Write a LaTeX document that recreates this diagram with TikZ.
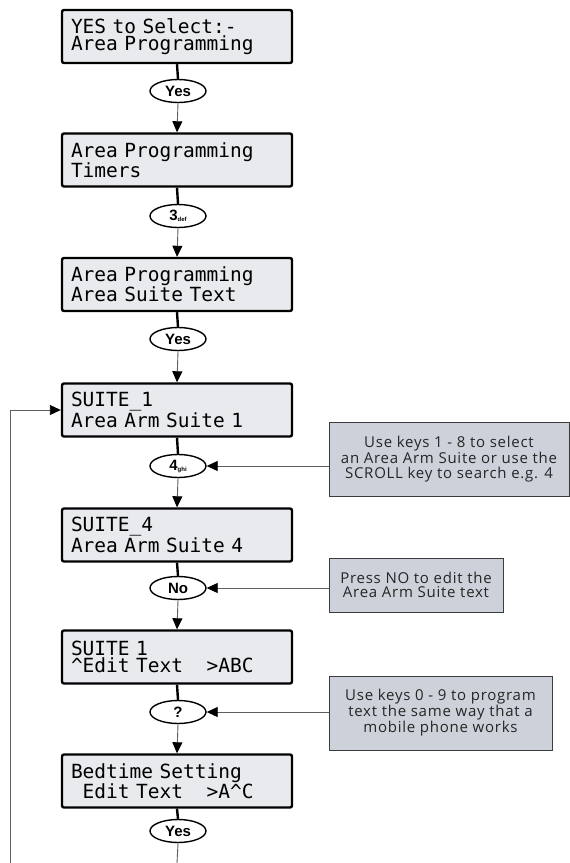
\documentclass[tikz,border=0pt]{standalone}
\usepackage{fontspec}
\setmainfont{Liberation Sans}
\newfontfamily\lcdfont{DejaVu Sans Mono}
\newfontfamily\notefont{Open Sans}[LetterSpace=5]
\usetikzlibrary{arrows.meta, shapes.geometric}
\definecolor{lcdfill}{RGB}{232, 234, 238}
\definecolor{notefill}{RGB}{205, 209, 217}
\definecolor{notedraw}{RGB}{60, 60, 60}
\definecolor{linegray}{RGB}{95, 95, 95}
\newcommand{\gap}{\hphantom{x}}
\newcommand{\lcdtext}{\lcdfont\fontsize{19.5}{17}\selectfont
  \spaceskip=\fontcharwd\font`x\relax\xspaceskip=\spaceskip}

\begin{document}
\begin{tikzpicture}[x=1pt, y=-1pt,
    lcd/.style={draw, line width=2.4pt, rounded corners=2pt, fill=lcdfill,
      minimum height=53pt, text width=212pt, inner xsep=9pt, inner ysep=0pt,
      align=left, font=\lcdtext},
    key/.style={draw, ellipse, line width=1.4pt, fill=white, minimum width=56pt,
      minimum height=23pt, inner sep=0pt, font=\bfseries\fontsize{15}{15}\selectfont},
    note/.style={draw=notedraw, line width=0.9pt, fill=notefill, inner sep=0pt,
      align=center, text=black!85, font=\notefont\fontsize{15}{14.2}\selectfont},
    stem/.style={line width=2.4pt},
    flow/.style={line width=0.9pt, draw=linegray,
      -{Triangle[length=11pt, width=10pt, color=black]}},
    plain/.style={line width=0.9pt, draw=linegray}]
    \useasboundingbox (0,0) rectangle (570,863);
    % Displays
    \node[lcd] (b1) at (177,36.5) {YES to Select:-\\Area Programming};
    \node[lcd] (b2) at (177,160)  {Area Programming\\Timers};
    \node[lcd] (b3) at (177,284.5){Area Programming\\Area Suite Text};
    \node[lcd] (b4) at (177,410)  {SUITE\_1\\Area Arm Suite 1};
    \node[lcd] (b5) at (177,535)  {SUITE\_4\\Area Arm Suite 4};
    \node[lcd] (b6) at (177,657)  {SUITE 1\\\textasciicircum Edit Text\gap\gap>ABC};
    \node[lcd] (b7) at (177,781)  {Bedtime Setting\\\gap Edit Text\gap\gap>A\textasciicircum C};
    % Keys
    \node[key] (o1) at (178,91)  {Yes};
    \node[key] (o2) at (178,216) {3\raisebox{-1pt}{\fontsize{6}{6}\selectfont def}};
    \node[key] (o3) at (178,339) {Yes};
    \node[key] (o4) at (178,466) {4\raisebox{-1pt}{\fontsize{6}{6}\selectfont ghi}};
    \node[key] (o5) at (178,588) {No};
    \node[key] (o6) at (178,712) {?};
    \node[key] (o7) at (178,831) {Yes};
    % Notes
    \node[note, minimum width=240pt, minimum height=74pt] (c1) at (449,459)
      {Use keys 1 - 8 to select\\an Area Arm Suite or use the\\SCROLL key to search e.g. 4};
    \node[note, minimum width=174pt, minimum height=54pt] (c2) at (416,585)
      {Press NO to edit the\\Area Arm Suite text};
    \node[note, minimum width=223pt, minimum height=74pt] (c3) at (440.5,713)
      {Use keys 0 - 9 to program\\text the same way that a\\mobile phone works};
    \coordinate (end) at (177,863);
    \coordinate (loop) at (10,863);
    % Flow
    \foreach \b/\o/\n in {b1/o1/b2, b2/o2/b3, b3/o3/b4, b4/o4/b5, b5/o5/b6, b6/o6/b7} {
      \draw[stem] (\b.south) -- (\o.north);
      \draw[flow] (\o.south) -- (\n.north);
    }
    \draw[stem] (b7.south) -- (o7.north);
    \draw[plain] (o7.south) -- (end);
    \draw[flow] (loop) |- (b4.west);
    % Note arrows
    \draw[flow] (c1.west |- o4.east) -- (o4.east);
    \draw[flow] (c2.west |- o5.east) -- (o5.east);
    \draw[flow] (c3.west |- o6.east) -- (o6.east);
\end{tikzpicture}
\end{document}
